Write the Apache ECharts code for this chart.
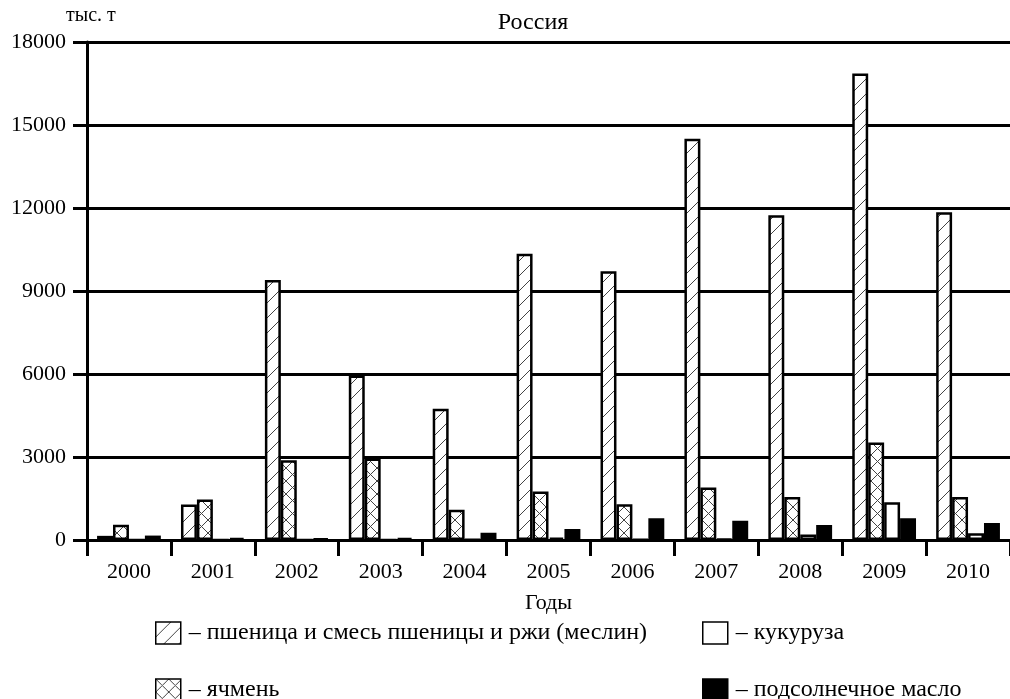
<!DOCTYPE html>
<html>
<head>
<meta charset="utf-8">
<script src="https://cdn.jsdelivr.net/npm/echarts@6/dist/echarts.min.js"></script>
<style>
  html, body { margin: 0; padding: 0; background: #fff; }
  #chart { width: 1010px; height: 699px; }
</style>
</head>
<body>
<div id="chart"></div>
<script>
// годы и экспорт, тыс. т
var years = ['2000', '2001', '2002', '2003', '2004', '2005', '2006', '2007', '2008', '2009', '2010'];
var wheat = [150, 1280, 9400, 5950, 4740, 10350, 9710, 14500, 11740, 16860, 11850];
var barley = [550, 1460, 2880, 2950, 1090, 1750, 1290, 1900, 1550, 3520, 1550];
var corn = [0, 0, 0, 0, 10, 90, 20, 40, 200, 1360, 245];
var oil = [160, 80, 50, 70, 265, 400, 790, 700, 545, 790, 610];
var yTicks = [0, 3000, 6000, 9000, 12000, 15000, 18000];

var serif = '"Liberation Serif", "DejaVu Serif", serif';

// штриховка "/" (и "X" для ячменя)
function hatchPattern(size, cross) {
  var c = document.createElement('canvas');
  c.width = size;
  c.height = size;
  var ctx = c.getContext('2d');
  ctx.fillStyle = '#fff';
  ctx.fillRect(0, 0, size, size);
  ctx.strokeStyle = '#444';
  ctx.lineWidth = 1;
  ctx.beginPath();
  ctx.moveTo(-1, size + 1);
  ctx.lineTo(size + 1, -1);
  if (cross) {
    ctx.moveTo(-1, -1);
    ctx.lineTo(size + 1, size + 1);
  }
  ctx.stroke();
  return { image: c, repeat: 'repeat' };
}

var wheatFill = hatchPattern(15, false);
var barleyFill = hatchPattern(13, true);

var chart = echarts.init(document.getElementById('chart'));

function barSeries(name, data, fill) {
  return {
    name: name,
    type: 'bar',
    data: data,
    barGap: '0%',
    barCategoryGap: '24%',
    itemStyle: {
      color: fill,
      borderColor: '#000',
      borderWidth: 2.5
    },
    emphasis: { disabled: true }
  };
}

var legendText = {
  fontFamily: serif,
  fontSize: 24,
  color: '#000',
  padding: [0, 0, 0, 3]
};

function makeLegend(left, names) {
  return {
    orient: 'vertical',
    left: left,
    top: 621,
    height: 120,
    padding: 0,
    itemWidth: 25,
    itemHeight: 22,
    itemGap: 33,
    icon: 'rect',
    data: names,
    formatter: function (n) { return '– ' + n; },
    textStyle: legendText,
    itemStyle: { borderColor: '#000', borderWidth: 1.5 },
    selectedMode: false
  };
}

var option = {
  backgroundColor: '#fff',
  animation: false,
  title: [{
    text: 'Россия',
    left: 528,
    top: 6,
    textAlign: 'center',
    textStyle: { fontFamily: serif, fontSize: 24, fontWeight: 'normal', color: '#000' }
  }, {
    text: 'тыс. т',
    left: 61,
    top: 1,
    textStyle: { fontFamily: serif, fontSize: 20, fontWeight: 'normal', color: '#000' }
  }],
  grid: {
    left: 87,
    right: -12,
    top: 42,
    bottom: 159,
    containLabel: false
  },
  legend: [
    makeLegend(155, ['пшеница и смесь пшеницы и ржи (меслин)', 'ячмень']),
    makeLegend(702, ['кукуруза', 'подсолнечное масло'])
  ],
  xAxis: {
    type: 'category',
    data: years,
    name: 'Годы',
    nameLocation: 'middle',
    nameGap: 52,
    nameTextStyle: { fontFamily: serif, fontSize: 22, color: '#000' },
    axisLine: { lineStyle: { color: '#000', width: 3 } },
    axisTick: { show: true, length: 16, lineStyle: { color: '#000', width: 3 } },
    axisLabel: { fontFamily: serif, fontSize: 22, color: '#000', margin: 21 },
    splitLine: { show: false }
  },
  yAxis: {
    type: 'value',
    min: yTicks[0],
    max: yTicks[yTicks.length - 1],
    interval: 3000,
    axisLine: { show: true, lineStyle: { color: '#000', width: 3 } },
    axisTick: { show: true, length: 14, lineStyle: { color: '#000', width: 3 } },
    axisLabel: {
      fontFamily: serif,
      fontSize: 22,
      color: '#000',
      margin: 21,
      formatter: function (v) { return String(v); }
    },
    splitLine: { show: true, lineStyle: { color: '#000', width: 3 } }
  },
  series: [
    barSeries('пшеница и смесь пшеницы и ржи (меслин)', wheat, wheatFill),
    barSeries('ячмень', barley, barleyFill),
    barSeries('кукуруза', corn, '#fff'),
    barSeries('подсолнечное масло', oil, '#000')
  ]
};

chart.setOption(option);
</script>
</body>
</html>
